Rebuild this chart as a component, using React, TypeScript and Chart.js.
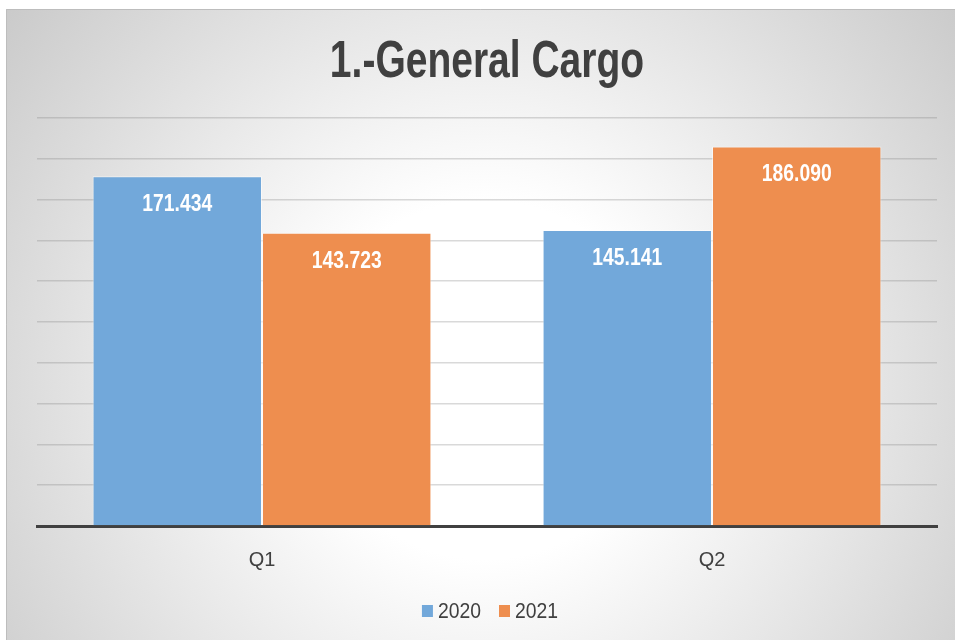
import React, { useEffect, useRef } from "react";
import { Chart, registerables } from "chart.js";

Chart.register(...registerables);

const TITLE = "1.-General Cargo";
const CATEGORIES = ["Q1", "Q2"];
const SERIES_LABELS = ["2020", "2021"];
const VALUES_2020 = [171.434, 145.141];
const VALUES_2021 = [143.723, 186.09];
const COLORS = ["#72A8DA", "#EE8E4F"];
const Y_MAX = 200;
const Y_STEP = 20;

const FONT = "'Liberation Sans', Arial, sans-serif";

// draws text horizontally condensed (the reference uses a narrow face)
function drawText(ctx: any, text: string, x: number, y: number, sx: number, align: string) {
  const w = ctx.measureText(text).width * sx;
  let left = x;
  if (align === "center") left = x - w / 2;
  else if (align === "right") left = x - w;
  ctx.save();
  ctx.textAlign = "left";
  ctx.translate(left, y);
  ctx.scale(sx, 1);
  ctx.fillText(text, 0, 0);
  ctx.restore();
  return w;
}

const bgPlugin = {
  id: "bgPlugin",
  beforeDraw(chart: any) {
    const { ctx, width, height } = chart;
    ctx.save();
    ctx.fillStyle = "#ffffff";
    ctx.fillRect(0, 0, width, height);
    const g = ctx.createRadialGradient(485, 380, 0, 485, 380, 640);
    g.addColorStop(0, "#ffffff");
    g.addColorStop(0.28, "#ffffff");
    g.addColorStop(1, "#c6c6c6");
    ctx.fillStyle = g;
    ctx.fillRect(6, 9, width - 6, height - 9);
    ctx.strokeStyle = "#bdbdbd";
    ctx.lineWidth = 1;
    ctx.beginPath();
    ctx.moveTo(6.5, height);
    ctx.lineTo(6.5, 9.5);
    ctx.lineTo(width, 9.5);
    ctx.stroke();
    ctx.restore();
  },
};

const overlayPlugin = {
  id: "overlayPlugin",
  afterDatasetsDraw(chart: any) {
    const { ctx } = chart;
    ctx.save();
    ctx.fillStyle = "#ffffff";
    ctx.font = `bold 23px ${FONT}`;
    ctx.textBaseline = "alphabetic";
    chart.data.datasets.forEach((ds: any, di: number) => {
      const meta = chart.getDatasetMeta(di);
      meta.data.forEach((bar: any, i: number) => {
        const v = ds.data[i] as number;
        drawText(ctx, v.toFixed(3), bar.x, bar.y + 35, 0.84, "center");
      });
    });
    ctx.restore();
  },
  afterDraw(chart: any) {
    const { ctx, chartArea } = chart;
    const cx = (chartArea.left + chartArea.right) / 2;
    ctx.save();
    ctx.textBaseline = "alphabetic";
    // title
    ctx.fillStyle = "#404040";
    ctx.font = `bold 52px ${FONT}`;
    drawText(ctx, TITLE, cx, 77, 0.75, "center");
    // legend
    ctx.font = `22px ${FONT}`;
    const sx = 0.88;
    const boxW = 11;
    const boxH = 12;
    const gapText = 5;
    const gapItem = 18;
    const items = chart.data.datasets.map((ds: any) => ({
      label: ds.label,
      color: ds.backgroundColor,
      w: ctx.measureText(ds.label).width * sx,
    }));
    let total = 0;
    items.forEach((it: any, i: number) => {
      total += boxW + gapText + it.w + (i > 0 ? gapItem : 0);
    });
    let x = cx + 3 - total / 2;
    items.forEach((it: any) => {
      ctx.fillStyle = it.color;
      ctx.fillRect(x, 605, boxW, boxH);
      x += boxW + gapText;
      ctx.fillStyle = "#404040";
      drawText(ctx, it.label, x, 618, sx, "left");
      x += it.w + gapItem;
    });
    ctx.restore();
  },
};

export default function App() {
  const canvasRef = useRef<HTMLCanvasElement | null>(null);

  useEffect(() => {
    document.body.style.margin = "0";
    const canvas = canvasRef.current;
    if (!canvas) return;
    const chart = new Chart(canvas, {
      type: "bar",
      data: {
        labels: CATEGORIES,
        datasets: [
          {
            label: SERIES_LABELS[0],
            data: VALUES_2020,
            backgroundColor: COLORS[0],
            borderColor: "rgba(255,255,255,0.55)",
            borderWidth: 1,
            categoryPercentage: 0.753,
            barPercentage: 1,
          },
          {
            label: SERIES_LABELS[1],
            data: VALUES_2021,
            backgroundColor: COLORS[1],
            borderColor: "rgba(255,255,255,0.55)",
            borderWidth: 1,
            categoryPercentage: 0.753,
            barPercentage: 1,
          },
        ],
      },
      options: {
        animation: false,
        responsive: false,
        maintainAspectRatio: false,
        layout: {
          padding: { top: 118, left: 37, right: 18, bottom: 46 },
        },
        plugins: {
          legend: { display: false },
          title: { display: false },
          tooltip: { enabled: false },
        },
        scales: {
          x: {
            grid: { display: false, drawTicks: false },
            border: { display: true, color: "#404040", width: 3 },
            ticks: {
              color: "#404040",
              font: { family: FONT, size: 20 },
              padding: 22,
            },
          },
          y: {
            min: 0,
            max: Y_MAX,
            grid: {
              display: true,
              drawTicks: false,
              color: "rgba(128,128,128,0.3)",
              lineWidth: 1.5,
            },
            border: { display: false },
            ticks: { display: false, stepSize: Y_STEP },
          },
        },
      },
      plugins: [bgPlugin, overlayPlugin],
    });
    return () => chart.destroy();
  }, []);

  return (
    <div style={{ width: 955, height: 640 }}>
      <canvas ref={canvasRef} width={955} height={640} style={{ display: "block" }} />
    </div>
  );
}
